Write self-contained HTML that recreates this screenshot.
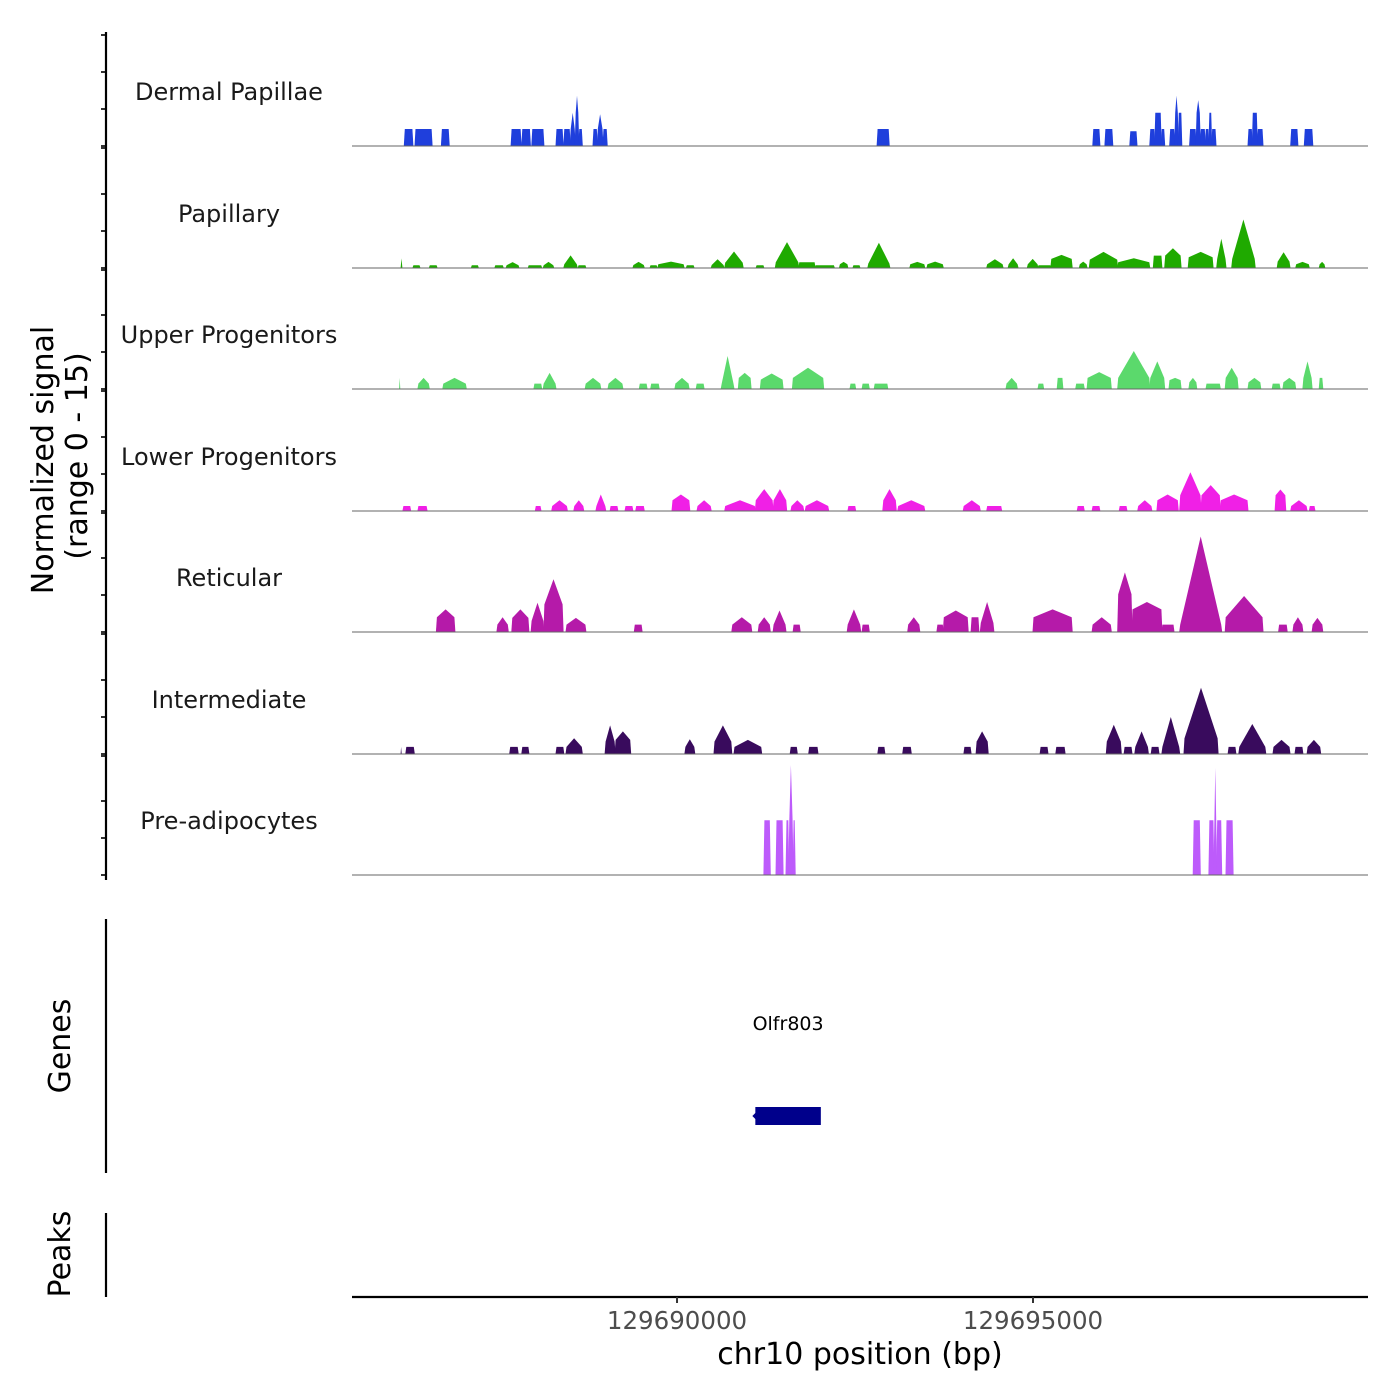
<!DOCTYPE html>
<html><head><meta charset="utf-8"><style>
body{margin:0;background:#fff}
svg{display:block;font-family:"DejaVu Sans","Liberation Sans",sans-serif}
</style></head><body>
<svg id="chart" width="1400" height="1400" viewBox="0 0 1400 1400" xmlns="http://www.w3.org/2000/svg">
<g id="tracks"></g>
<g id="axes"></g>
</svg>
<script>
// Region (kb offset from 129685000 bp)
const regionStartKb = 0.435;
const regionEndKb = 14.705;
const xTickValues = [129690000, 129695000];
const xTickLabels = ["129690000", "129695000"];
const trackNames = ["Dermal Papillae","Papillary","Upper Progenitors","Lower Progenitors","Reticular","Intermediate","Pre-adipocytes"];
const trackColors = ["#1f3fdc","#1faa00","#5bd96c","#f020e6","#b51aa9","#390b5d","#bd5bfb"];
// each feature: [start kb, end kb, base value, peak value]
const dermalFeatures = [[1.17,1.29,2.3,2.3],[1.32,1.56,2.3,2.3],[1.69,1.80,2.3,2.3],[2.67,2.81,2.3,2.3],[2.82,2.94,2.3,2.3],[2.96,3.13,2.3,2.3],[3.30,3.40,2.3,2.3],[3.41,3.50,2.3,2.3],[3.50,3.57,2.3,4.5],[3.57,3.62,4.5,6.8],[3.62,3.67,2.3,2.3],[3.82,3.88,2.3,2.3],[3.88,3.96,2.3,4.3],[3.96,4.02,2.3,2.3],[7.81,7.98,2.3,2.3],[10.84,10.94,2.3,2.3],[11.01,11.12,2.3,2.3],[11.36,11.46,2.0,2.0],[11.64,11.71,2.3,2.3],[11.71,11.80,4.5,4.5],[11.80,11.85,2.3,2.3],[11.92,11.99,2.3,2.3],[11.99,12.04,4.5,6.8],[12.04,12.09,4.5,4.5],[12.20,12.29,2.3,2.3],[12.29,12.35,4.5,6.2],[12.35,12.42,2.3,2.3],[12.42,12.47,2.3,2.3],[12.47,12.51,4.5,4.5],[12.51,12.57,2.3,2.3],[13.02,13.08,2.3,2.3],[13.08,13.15,4.5,4.5],[13.15,13.23,2.3,2.3],[13.62,13.72,2.3,2.3],[13.81,13.93,2.3,2.3]];
const papillaryFeatures = [[1.11,1.15,0,1.3],[1.29,1.39,.36,.36],[1.52,1.63,.36,.36],[2.11,2.21,.36,.36],[2.44,2.56,.36,.36],[2.60,2.78,.36,.8],[2.91,3.10,.36,.36],[3.12,3.27,.36,.82],[3.41,3.60,.5,1.7],[3.61,3.72,.36,.36],[4.38,4.54,.4,.82],[4.62,4.72,.36,.36],[4.73,5.10,.5,.86],[5.13,5.24,.36,.36],[5.48,5.66,.4,1.18],[5.67,5.93,.7,2.23],[6.11,6.22,.36,.36],[6.38,6.71,.77,3.5],[6.71,6.94,.77,.77],[6.94,7.21,.36,.36],[7.28,7.40,.5,.82],[7.47,7.57,.36,.36],[7.68,7.99,.6,3.41],[8.27,8.48,.5,.82],[8.51,8.74,.5,.86],[9.35,9.58,.5,1.18],[9.65,9.79,.5,1.32],[9.92,10.07,.5,1.23],[10.07,10.25,.36,.36],[10.25,10.55,1.23,1.77],[10.65,10.76,.5,.86],[10.79,11.19,1.14,2.18],[11.19,11.64,.77,1.32],[11.69,11.81,1.68,1.68],[11.85,12.08,1.68,2.68],[12.18,12.53,1.46,2.18],[12.58,12.71,1.23,3.96],[12.79,13.12,1.23,6.55],[13.43,13.61,.86,2.14],[13.69,13.88,.5,.82],[14.02,14.10,.5,.82]];
const upperFeatures = [[1.09,1.12,0,1.5],[1.36,1.52,.73,1.5],[1.71,2.04,.73,1.5],[2.99,3.10,.73,.73],[3.12,3.30,.73,2.18],[3.71,3.93,.73,1.5],[4.03,4.24,.73,1.5],[4.47,4.58,.73,.73],[4.63,4.75,.73,.73],[4.97,5.17,.73,1.5],[5.27,5.38,.73,.73],[5.62,5.80,.73,4.46],[5.86,6.04,1.5,2.18],[6.17,6.49,1.27,2.09],[6.62,7.06,1.5,2.87],[7.43,7.51,.73,.73],[7.60,7.70,.73,.73],[7.77,7.96,.73,.73],[9.62,9.78,.73,1.5],[10.07,10.15,.73,.73],[10.34,10.42,1.5,1.5],[10.60,10.72,.73,.73],[10.76,11.10,1.5,2.28],[11.19,11.64,1.5,5.14],[11.64,11.85,1.5,3.73],[11.91,12.08,1.2,1.5],[12.19,12.30,.9,1.5],[12.43,12.63,.73,.73],[12.70,12.88,1.5,2.87],[13.02,13.20,.9,1.5],[13.36,13.47,.73,.73],[13.51,13.69,.9,1.5],[13.79,13.92,1.5,3.73],[14.02,14.07,1.5,1.5]];
const lowerFeatures = [[1.15,1.26,.68,.68],[1.36,1.49,.68,.68],[3.01,3.09,.68,.68],[3.24,3.46,.68,1.46],[3.55,3.69,.68,1.46],[3.86,4.00,.68,2.23],[4.06,4.17,.68,.68],[4.27,4.38,.68,.68],[4.42,4.54,.68,.68],[4.93,5.18,1.46,2.23],[5.28,5.48,.68,1.46],[5.67,6.10,.68,1.46],[6.10,6.35,1.46,2.96],[6.35,6.54,1.46,2.96],[6.60,6.78,.68,1.46],[6.80,7.13,.68,1.46],[7.40,7.51,.68,.68],[7.89,8.08,1.46,2.96],[8.10,8.48,.68,1.46],[9.02,9.26,.68,1.46],[9.35,9.56,.68,.68],[10.62,10.72,.68,.68],[10.83,10.94,.68,.68],[11.21,11.32,.68,.68],[11.47,11.67,.68,1.46],[11.74,12.04,1.46,2.23],[12.06,12.36,2.14,5.23],[12.36,12.63,2.14,3.5],[12.63,13.02,1.46,2.23],[13.40,13.55,2.14,2.91],[13.62,13.85,.68,1.46],[13.88,13.96,.68,.68]];
const reticularFeatures = [[1.62,1.88,2.0,3.05],[2.47,2.63,1.0,2.0],[2.68,2.92,1.91,3.05],[2.95,3.13,1.5,3.96],[3.13,3.40,3.73,7.14],[3.44,3.72,1.0,1.91],[4.40,4.51,1.0,1.0],[5.77,6.05,1.0,2.0],[6.14,6.31,1.0,2.0],[6.35,6.53,1.0,2.91],[6.63,6.73,1.0,1.0],[7.39,7.58,1.0,3.05],[7.60,7.70,1.0,1.0],[8.24,8.41,1.0,2.0],[8.65,8.74,1.0,1.0],[8.74,9.09,2.0,2.91],[9.13,9.24,2.0,2.0],[9.26,9.45,1.23,4.05],[10.0,10.55,2.0,3.05],[10.83,11.10,1.0,2.0],[11.19,11.39,5.1,8.05],[11.39,11.81,3.05,4.05],[11.81,11.98,1.0,1.0],[12.06,12.65,1.0,12.9],[12.70,13.23,2.0,4.87],[13.45,13.57,1.0,1.0],[13.65,13.79,1.0,2.0],[13.92,14.07,1.0,1.91]];
const intermediateFeatures = [[1.11,1.14,0,.96],[1.19,1.31,.96,.96],[2.65,2.77,.96,.96],[2.82,2.92,.96,.96],[3.30,3.41,.96,.96],[3.44,3.67,.96,2.14],[3.99,4.13,1.68,3.87],[4.13,4.35,1.91,3.05],[5.11,5.25,.96,2.0],[5.52,5.77,1.68,3.87],[5.80,6.19,.96,1.91],[6.59,6.69,.96,.96],[6.85,6.98,.96,.96],[7.82,7.92,.96,.96],[8.17,8.29,.96,.96],[9.03,9.13,.96,.96],[9.20,9.37,1.68,3.05],[10.10,10.21,.96,.96],[10.32,10.45,.96,.96],[11.03,11.24,1.68,3.96],[11.28,11.39,.96,.96],[11.43,11.62,.96,3.05],[11.66,11.77,.96,.96],[11.81,12.06,.96,5.0],[12.12,12.60,2.14,8.96],[12.74,12.85,.96,.96],[12.89,13.27,.96,4.05],[13.37,13.61,.96,1.91],[13.68,13.79,.96,.96],[13.85,14.04,.96,1.91]];
const preadipoFeatures = [[6.22,6.31,7.4,7.4],[6.39,6.49,7.4,7.4],[6.53,6.57,7.4,7.4],[6.57,6.63,7.4,14.9],[6.63,6.66,7.4,7.4],[12.25,12.35,7.4,7.4],[12.47,12.54,7.4,7.4],[12.54,12.58,7.4,14.5],[12.58,12.65,7.4,7.4],[12.71,12.81,7.4,7.4]];
const allFeatures = [dermalFeatures,papillaryFeatures,upperFeatures,lowerFeatures,reticularFeatures,intermediateFeatures,preadipoFeatures];
const geneName = "Olfr803";
const geneStartBp = 129691100;
const geneEndBp = 129692020;

const NS="http://www.w3.org/2000/svg";
const plotL=352, plotR=1368;
const baselines=[146,268,389,511,632,754,875];
const pxPerUnit=7.4;
function xKb(k){return plotL+(k-regionStartKb)/(regionEndKb-regionStartKb)*(plotR-plotL);}
function xBp(bp){return xKb((bp-129685000)/1000);}
function yVal(v,t){return baselines[t]-v*pxPerUnit;}
function mk(tag,attrs,parent){const e=document.createElementNS(NS,tag);for(const k in attrs)e.setAttribute(k,attrs[k]);parent.appendChild(e);return e;}

const tracks=document.getElementById('tracks');
const axes=document.getElementById('axes');
allFeatures.forEach((feats,t)=>{
  const g=mk('g',{},tracks);
  
  
  const lab=mk('text',{x:229,y:baselines[t]-46,'text-anchor':'middle','font-size':'24',fill:'#1a1a1a'},g);
  lab.textContent=trackNames[t];
  
  
  feats.forEach(f=>{
    const x0=xKb(f[0]),x1=xKb(f[1]),xm=(x0+x1)/2;
    const b=baselines[t];
    const pts=[[x0-0.5,b],[x0+0.5,yVal(f[2],t)],[xm,yVal(f[3],t)],[x1-0.5,yVal(f[2],t)],[x1+0.5,b]];
    const p=mk('polygon',{points:pts.map(q=>q[0].toFixed(1)+','+q[1].toFixed(1)).join(' '),fill:trackColors[t]},g);
    
    
  });
  const bl=mk('line',{x1:plotL,x2:plotR,y1:baselines[t],y2:baselines[t],stroke:'#666','stroke-width':1},g);
  
  
  const tops=[baselines[t]-111, baselines[t]-74, baselines[t]-37, baselines[t]];
  if(t>0) tops[0]=baselines[t-1]+2;
  tops.forEach(y=>{const tk=mk('line',{x1:101,x2:106,y1:y,y2:y,stroke:'#333','stroke-width':2},axes);
    
    });
});
[[32,880,'signal-axis-line'],[919,1173,'genes-axis-line'],[1213,1297,'peaks-axis-line']].forEach(a=>{
  const l=mk('line',{x1:106,x2:106,y1:a[0],y2:a[1],stroke:'#000','stroke-width':2.2},axes);
  
  
});
function txt(s,attrs,name){const e=mk('text',attrs,axes);e.textContent=s;return e;}
txt('Normalized signal',{x:0,y:0,transform:'translate(53,460) rotate(-90)','text-anchor':'middle','font-size':'30',fill:'#000'},'y-axis-title');
txt('(range 0 - 15)',{x:0,y:0,transform:'translate(87,456) rotate(-90)','text-anchor':'middle','font-size':'30',fill:'#000'},'y-axis-subtitle');
txt('Genes',{x:0,y:0,transform:'translate(70,1046) rotate(-90)','text-anchor':'middle','font-size':'30',fill:'#000'},'genes-axis-title');
txt('Peaks',{x:0,y:0,transform:'translate(70,1254) rotate(-90)','text-anchor':'middle','font-size':'30',fill:'#000'},'peaks-axis-title');
const gx0=xBp(geneStartBp), gx1=xBp(geneEndBp);
const gr=mk('rect',{x:gx0,y:1107,width:gx1-gx0,height:18,fill:'#00008b'},axes);


const ga=mk('polygon',{points:`${gx0-3},1116 ${gx0+1},1112 ${gx0+1},1120`,fill:'#00008b'},axes);


txt(geneName,{x:(gx0+gx1)/2,y:1030,'text-anchor':'middle','font-size':'19',fill:'#000'},'gene-label');
const xl=mk('line',{x1:plotL,x2:plotR,y1:1297,y2:1297,stroke:'#000','stroke-width':2.2},axes);


xTickValues.forEach((v,i)=>{
  const x=xBp(v);
  const tk=mk('line',{x1:x,x2:x,y1:1297,y2:1303,stroke:'#333','stroke-width':2},axes);
  
  
  txt(xTickLabels[i],{x:x,y:1329,'text-anchor':'middle','font-size':'24.5',fill:'#4d4d4d'},'x-tick-label');
});
txt('chr10 position (bp)',{x:860,y:1364,'text-anchor':'middle','font-size':'30',fill:'#000'},'x-axis-title');
</script>
</body></html>
